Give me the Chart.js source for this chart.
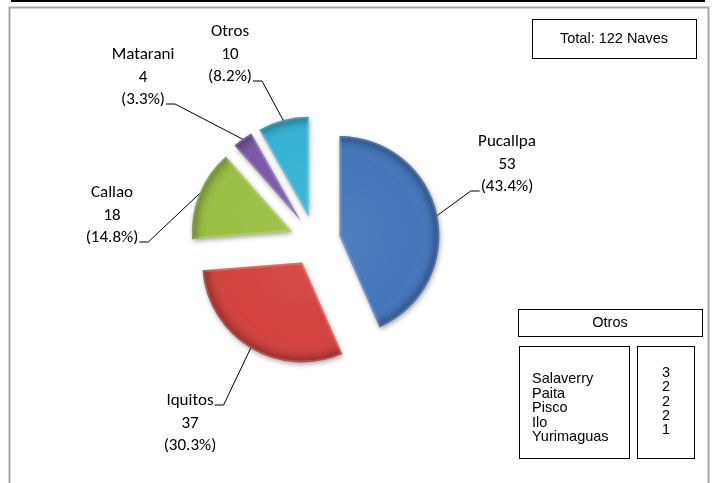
<!DOCTYPE html>
<html>
<head>
<meta charset="utf-8">
<script src="https://cdn.jsdelivr.net/npm/chart.js"></script>
<style>
  html, body { margin: 0; padding: 0; background: #fff; }
  canvas { display: block; }
</style>
</head>
<body>
<canvas id="naves" width="713" height="483"></canvas>
<script>
// naves por puerto
const ports = ['Pucallpa', 'Iquitos', 'Callao', 'Matarani', 'Otros'];
const naves = [53, 37, 18, 4, 10];
// detalle de "Otros"
const otrosPorts = ['Salaverry', 'Paita', 'Pisco', 'Ilo', 'Yurimaguas'];
const otrosNaves = [3, 2, 2, 2, 1];

const colors = ['#4576bb', '#d3423f', '#9bbf44', '#7b57a5', '#37b2d4'];
const total = naves.reduce((a, b) => a + b, 0);

// label placement (first line centre) and where the leader line leaves the text
const labelPos = [
  { x: 507, y: 142, side: 'left', line: 2 },
  { x: 190, y: 401, side: 'right', line: 0 },
  { x: 112, y: 193, side: 'right', line: 2 },
  { x: 143, y: 55, side: 'right', line: 2 },
  { x: 230, y: 32, side: 'right', line: 2 }
];

function sliceCenter(arc, offset) {
  const mid = (arc.startAngle + arc.endAngle) / 2;
  return { x: arc.x + Math.cos(mid) * offset, y: arc.y + Math.sin(mid) * offset, mid: mid };
}

const frame = {
  id: 'frame',
  beforeDraw(chart) {
    const ctx = chart.ctx;
    ctx.save();
    ctx.fillStyle = '#fff';
    ctx.fillRect(0, 0, chart.width, chart.height);
    ctx.strokeStyle = '#000';
    ctx.lineWidth = 2;
    ctx.beginPath(); ctx.moveTo(11, 1); ctx.lineTo(705, 1); ctx.stroke();
    ctx.strokeStyle = '#a6a6a6';
    ctx.lineWidth = 2;
    ctx.beginPath();
    ctx.moveTo(9.5, 483); ctx.lineTo(9.5, 7.5); ctx.lineTo(708.5, 7.5); ctx.lineTo(708.5, 483);
    ctx.stroke();
    ctx.restore();
  }
};

// exploded slices with a soft bevel
const explode = {
  id: 'explode',
  beforeDatasetDraw(chart, args, opts) {
    const ctx = chart.ctx;
    args.meta.data.forEach((arc) => {
      const c = sliceCenter(arc, opts.offset);
      ctx.save();
      ctx.shadowColor = 'rgba(0,0,0,0.35)';
      ctx.shadowBlur = 5;
      ctx.shadowOffsetX = 1;
      ctx.shadowOffsetY = 2;
      ctx.translate(c.x - arc.x, c.y - arc.y);
      arc.draw(ctx);
      ctx.restore();

      ctx.save();
      ctx.beginPath();
      ctx.moveTo(c.x, c.y);
      ctx.arc(c.x, c.y, arc.outerRadius, arc.startAngle, arc.endAngle);
      ctx.closePath();
      ctx.clip();
      const g = ctx.createRadialGradient(c.x, c.y, 0, c.x, c.y, arc.outerRadius);
      g.addColorStop(0, 'rgba(255,255,255,0.06)');
      g.addColorStop(0.8, 'rgba(255,255,255,0)');
      g.addColorStop(0.92, 'rgba(0,0,0,0.08)');
      g.addColorStop(1, 'rgba(0,0,0,0.32)');
      ctx.fillStyle = g;
      ctx.fill();
      ctx.lineWidth = 4;
      ctx.strokeStyle = 'rgba(255,255,255,0.18)';
      ctx.stroke();
      ctx.restore();
    });
    return false;
  }
};

const labels = {
  id: 'labels',
  afterDatasetsDraw(chart, args, opts) {
    const ctx = chart.ctx;
    const meta = chart.getDatasetMeta(0);
    ctx.save();
    ctx.font = '17px Carlito, Lato, sans-serif';
    ctx.textAlign = 'center';
    ctx.textBaseline = 'middle';
    ctx.fillStyle = '#000';
    ctx.strokeStyle = '#000';
    ctx.lineWidth = 1;
    meta.data.forEach((arc, i) => {
      const p = labelPos[i];
      const lines = [ports[i], String(naves[i]), '(' + (naves[i] / total * 100).toFixed(1) + '%)'];
      lines.forEach((t, k) => ctx.fillText(t, p.x, p.y + k * opts.lineHeight));
      const w = ctx.measureText(lines[p.line]).width;
      const ly = p.y + p.line * opts.lineHeight + 4;
      const lx = p.side === 'left' ? p.x - w / 2 - 1 : p.x + w / 2 + 1;
      const hx = p.side === 'left' ? lx - 9 : lx + 9;
      const c = sliceCenter(arc, opts.offset);
      const ex = c.x + Math.cos(c.mid) * arc.outerRadius;
      const ey = c.y + Math.sin(c.mid) * arc.outerRadius;
      ctx.beginPath();
      ctx.moveTo(lx, ly);
      ctx.lineTo(hx, ly);
      ctx.lineTo(ex, ey);
      ctx.stroke();
    });
    ctx.restore();
  }
};

const boxes = {
  id: 'boxes',
  afterDraw(chart) {
    const ctx = chart.ctx;
    ctx.save();
    ctx.strokeStyle = '#000';
    ctx.lineWidth = 1;
    ctx.fillStyle = '#000';
    ctx.font = '14.5px "Liberation Sans", Arial, sans-serif';
    ctx.textBaseline = 'middle';

    ctx.strokeRect(532.5, 19.5, 164, 39);
    ctx.textAlign = 'center';
    ctx.fillText('Total: ' + total + ' Naves', 614, 39);

    ctx.strokeRect(518.5, 309.5, 184, 27);
    ctx.fillText('Otros', 610, 323);

    ctx.strokeRect(519.5, 346.5, 110, 112);
    ctx.strokeRect(637.5, 346.5, 57, 112);
    ctx.textAlign = 'left';
    otrosPorts.forEach((n, k) => ctx.fillText(n, 532, 379 + k * 14.5));
    ctx.textAlign = 'center';
    otrosNaves.forEach((v, k) => ctx.fillText(String(v), 666, 373 + k * 14.3));
    ctx.restore();
  }
};

new Chart(document.getElementById('naves'), {
  type: 'pie',
  data: {
    labels: ports,
    datasets: [{
      data: naves,
      backgroundColor: colors,
      borderWidth: 0
    }]
  },
  options: {
    responsive: false,
    animation: false,
    layout: {
      padding: { left: 215, right: 298, top: 141, bottom: 142 }
    },
    plugins: {
      legend: { display: false },
      tooltip: { enabled: false },
      explode: { offset: 25 },
      labels: { offset: 25, lineHeight: 22.5 }
    }
  },
  plugins: [frame, explode, labels, boxes]
});
</script>
</body>
</html>
